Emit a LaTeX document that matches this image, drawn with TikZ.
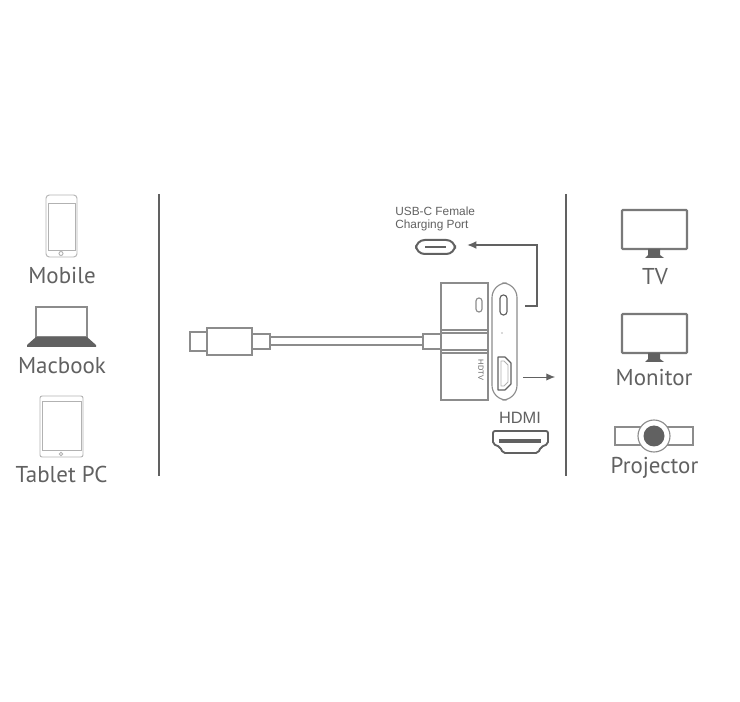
\documentclass[tikz,border=0pt]{standalone}
\usepackage{fontspec}
\setmainfont{PT Sans}
\newfontfamily\labelfont{Liberation Sans}
\usetikzlibrary{arrows.meta}
\definecolor{ink}{gray}{0.38}
\definecolor{wire}{gray}{0.55}
\definecolor{softwire}{gray}{0.70}
\tikzset{
  x=0.75pt,y=-0.75pt,
  devlabel/.style={inner sep=0pt,anchor=base,text=ink,font=\fontsize{17.2pt}{18pt}\selectfont},
  smalllabel/.style={inner sep=0pt,text=ink,align=left,font=\labelfont\fontsize{8.9pt}{9.7pt}\selectfont},
  hdmilabel/.style={inner sep=0pt,text=ink,font=\labelfont\fontsize{12.3pt}{14pt}\selectfont},
  outline/.style={draw=wire,line width=0.85pt,fill=white},
  thinline/.style={draw=softwire,line width=0.7pt},
  screen/.style={draw=ink!85!white,line width=1.6pt,fill=white,rounded corners=0.6pt},
  divider/.style={draw=ink,line width=1.7pt},
}
\begin{document}
\begin{tikzpicture}
\useasboundingbox (0,0) rectangle (740,702);

% dividers between sources, adapter and displays
\coordinate (divAtop) at (159,194);
\coordinate (divAbot) at (159,476);
\coordinate (divBtop) at (566,194);
\coordinate (divBbot) at (566,476);
\draw[divider] (divAtop) -- (divAbot);
\draw[divider] (divBtop) -- (divBbot);

% phone
\draw[thinline,rounded corners=2.5pt] (46,195) rectangle (77,257);
\draw[thinline] (48,203) rectangle (75,250);
\draw[thinline] (61,253.5) circle (2);
\node[devlabel] (mobile) at (62,284) {Mobile};

% laptop
\draw[outline] (36,307) rectangle (87,337);
\fill[ink] (36,337) -- (87,337) -- (96,345) -- (96,347) -- (27,347) -- (27,345) -- cycle;
\node[devlabel] (macbook) at (62,374) {Macbook};

% tablet
\draw[thinline,rounded corners=1.5pt] (40,396) rectangle (83,457);
\draw[thinline] (42.5,401) rectangle (81,450);
\draw[thinline] (61,454) circle (1.8);
\node[devlabel] (tablet) at (61.5,483) {Tablet PC};

% cable with its two plugs
\draw[outline] (190,332) rectangle (207,351);
\draw[outline] (207,328) rectangle (252,355);
\draw[outline] (252,334) rectangle (270,349);
\draw[outline] (270,337) rectangle (423,345);
\draw[outline] (423,334) rectangle (441,349);

% adapter housing
\draw[outline] (441,283) rectangle (488,400);
\draw[wire,line width=0.85pt] (441,330) -- (488,330) (441,333) -- (488,333);
\draw[wire,line width=0.85pt] (441,350) -- (488,350) (441,353) -- (488,353);
\draw[outline,rounded corners=2.2pt] (476,298) rectangle (482,312);
\node[inner sep=0pt,text=ink,rotate=-90,font=\labelfont\fontsize{5.6pt}{6pt}\selectfont] (hdtv) at (481,370) {HDTV};

% adapter port face
\draw[outline,rounded corners=11pt] (492,283) rectangle (517,400);
\draw[draw=ink,line width=0.85pt,fill=white,rounded corners=2.5pt] (500,295) rectangle (507,315);
\fill[ink] (502,333) circle (0.6);
\draw[draw=ink,line width=0.85pt,fill=white,line join=round] (498,357) -- (505,357) -- (511,363) -- (511,384) -- (505,390) -- (498,390) -- cycle;
\draw[draw=softwire,line width=0.6pt,line join=round] (501,361) -- (504,361) -- (508,365) -- (508,382) -- (504,386) -- (501,386) -- cycle;

% loose USB-C socket
\node[smalllabel,anchor=north west] (usbc) at (395,206.5) {USB-C Female\\Charging Port};
\draw[draw=ink,line width=1.5pt,fill=white,rounded corners=6.5pt] (416,240) rectangle (455,254);
\draw[draw=ink,line width=1.5pt] (425,247) -- (446,247);
\coordinate (usbcpin) at (467,245);
\coordinate (faceout) at (525,306);
\draw[draw=ink,line width=1.5pt,-{Latex[length=7pt,width=6pt]}] (faceout) -| (537,245) -- (usbcpin);

% HDMI output
\coordinate (hdmiout) at (523,377);
\coordinate (hdmiend) at (555,377);
\draw[draw=ink,line width=0.7pt,-{Latex[length=6.5pt,width=5.5pt]}] (hdmiout) -- (hdmiend);
\node[hdmilabel] (hdmi) at (520,418) {HDMI};
\draw[draw=ink,line width=1.4pt,fill=white,line join=round,rounded corners=1.5pt]
  (493,431) -- (548,431) -- (548,444) -- (541,447) -- (538,453) -- (503,453) -- (500,447) -- (493,444) -- cycle;
\fill[ink] (499,439) rectangle (541,443);

% television
\draw[screen] (622,210) rectangle (687,249);
\fill[ink] (648,249) -- (660,249) -- (660,255) -- (664,258) -- (645,258) -- (648,255) -- cycle;
\node[devlabel] (tv) at (655,285) {TV};

% monitor
\draw[screen] (622,314) rectangle (687,353);
\fill[ink] (648,353) -- (660,353) -- (660,359) -- (664,362) -- (645,362) -- (648,359) -- cycle;
\node[devlabel] (monitor) at (654,386) {Monitor};

% projector
\draw[outline] (615,427) rectangle (693,445);
\draw[outline] (654,436) circle (16);
\fill[ink] (654,436) circle (10.5);
\node[devlabel] (projector) at (654.5,474) {Projector};
\end{tikzpicture}
\end{document}
